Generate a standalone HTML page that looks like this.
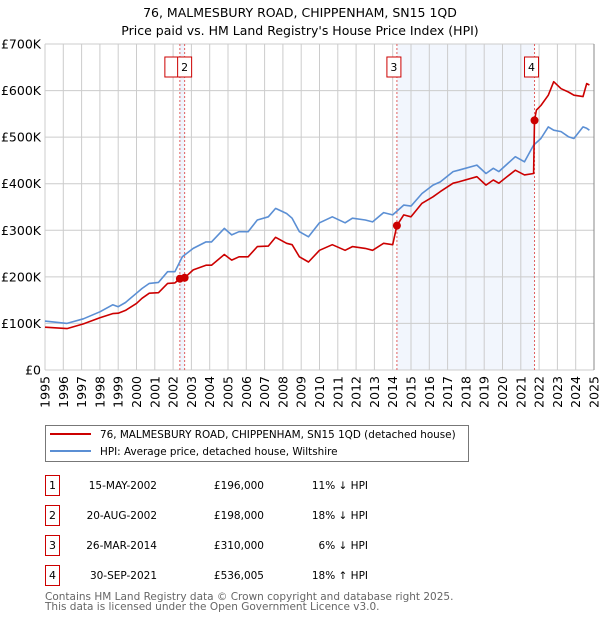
<!DOCTYPE html>
<html><head><meta charset="utf-8">
<style>
body{margin:0;background:#fff;font-family:"Liberation Sans","DejaVu Sans",sans-serif;}
svg text{font-family:"DejaVu Sans","Liberation Sans",sans-serif;}
</style></head>
<body>
<svg id="chart" width="600" height="620" viewBox="0 0 600 620" xmlns="http://www.w3.org/2000/svg">
<text x="300" y="17" text-anchor="middle" font-size="12.5">76, MALMESBURY ROAD, CHIPPENHAM, SN15 1QD</text>
<text x="300" y="35" text-anchor="middle" font-size="12.5">Price paid vs. HM Land Registry's House Price Index (HPI)</text>
<g id="plot"></g>
<g>
<rect x="45.5" y="425.5" width="423" height="36" fill="#fff" stroke="#777"/>
<line x1="50" y1="434" x2="91" y2="434" stroke="#cc0000" stroke-width="2"/>
<text x="100" y="438" font-size="10.4">76, MALMESBURY ROAD, CHIPPENHAM, SN15 1QD (detached house)</text>
<line x1="50" y1="451" x2="91" y2="451" stroke="#5b8fd4" stroke-width="2"/>
<text x="100" y="455" font-size="10.4">HPI: Average price, detached house, Wiltshire</text>
</g>
<g id="table"></g>
<text x="45" y="600" font-size="10.5" fill="#666">Contains HM Land Registry data © Crown copyright and database right 2025.</text>
<text x="45" y="610" font-size="10.5" fill="#666">This data is licensed under the Open Government Licence v3.0.</text>
</svg>
<script>
const hpiYears=[1995.0,1996.2,1997.1,1998.0,1998.7,1999.0,1999.4,2000.0,2000.3,2000.7,2001.2,2001.7,2002.1,2002.5,2003.1,2003.8,2004.1,2004.8,2005.2,2005.6,2006.1,2006.6,2007.2,2007.6,2008.2,2008.5,2008.9,2009.4,2010.0,2010.7,2011.4,2011.8,2012.5,2012.9,2013.5,2014.0,2014.6,2015.0,2015.6,2016.2,2016.6,2017.3,2017.6,2018.6,2019.1,2019.5,2019.8,2020.7,2021.2,2021.7,2022.1,2022.5,2022.8,2023.2,2023.6,2023.9,2024.4,2024.6,2024.75];
const hpiValues=[105,100,110,125,140,136,145,165,175,186,188,211,211,243,261,275,275,304,290,297,297,322,329,347,336,326,297,286,316,329,316,326,322,318,338,333,354,352,379,397,404,426,429,440,422,433,426,458,447,483,497,522,515,512,501,497,522,519,515];
const priceYears=[1995.0,1996.2,1997.1,1998.0,1998.7,1999.0,1999.4,2000.0,2000.3,2000.7,2001.2,2001.7,2002.1,2002.37,2002.63,2003.1,2003.8,2004.1,2004.8,2005.2,2005.6,2006.1,2006.6,2007.2,2007.6,2008.2,2008.5,2008.9,2009.4,2010.0,2010.7,2011.4,2011.8,2012.5,2012.9,2013.5,2014.0,2014.23,2014.6,2015.0,2015.6,2016.2,2016.6,2017.3,2017.6,2018.6,2019.1,2019.5,2019.8,2020.7,2021.2,2021.7,2021.75,2021.85,2022.1,2022.5,2022.8,2023.2,2023.6,2023.9,2024.4,2024.6,2024.75];
const priceValues=[92,89,99,112,121,122,128,143,154,165,166,186,187,196,198,215,225,225,248,236,243,243,265,266,285,272,269,243,232,257,269,257,265,261,257,272,269,310,333,329,358,372,383,401,404,415,397,408,401,429,419,422,536,558,568,590,619,604,597,590,587,615,612];
const saleYears=[2002.37,2002.63,2014.23,2021.75];
const saleValues=[196,198,310,536];
const saleLabels=["1","2","3","4"];
const saleDates=["15-MAY-2002","20-AUG-2002","26-MAR-2014","30-SEP-2021"];
const salePrices=["£196,000","£198,000","£310,000","£536,005"];
const saleHpi=["11% ↓ HPI","18% ↓ HPI","6% ↓ HPI","18% ↑ HPI"];
const yTicks=[0,100,200,300,400,500,600,700];
const yTickLabels=["£0","£100K","£200K","£300K","£400K","£500K","£600K","£700K"];
const xTicks=[1995,1996,1997,1998,1999,2000,2001,2002,2003,2004,2005,2006,2007,2008,2009,2010,2011,2012,2013,2014,2015,2016,2017,2018,2019,2020,2021,2022,2023,2024,2025];

const NS="http://www.w3.org/2000/svg";
const L=45,R=594,T=44,B=370;
const xs=y=>L+(y-1995)/30*(R-L);
const ys=v=>B-v/700*(B-T);
const plot=document.getElementById('plot');
function mk(tag,at,parent){const e=document.createElementNS(NS,tag);for(const k in at)e.setAttribute(k,at[k]);(parent||plot).appendChild(e);return e;}

let s1=mk('rect',{x:xs(saleYears[0]),y:T,width:xs(saleYears[1])-xs(saleYears[0]),height:B-T,fill:'#eef3fc'});


let s2=mk('rect',{x:xs(saleYears[2]),y:T,width:xs(saleYears[3])-xs(saleYears[2]),height:B-T,fill:'#f2f6fd'});



yTicks.forEach((v,i)=>{
  let g=mk('line',{x1:L,x2:R,y1:ys(v),y2:ys(v),stroke:'#cccccc','stroke-width':1});
  
  
  let t=mk('text',{x:L-4,y:ys(v)+4.5,'text-anchor':'end','font-size':'12.5'});
  t.textContent=yTickLabels[i];
  
  
});
xTicks.forEach(y=>{
  let g=mk('line',{x1:xs(y),x2:xs(y),y1:T,y2:B,stroke:'#cccccc','stroke-width':1});
  
  
  let t=mk('text',{x:0,y:0,'text-anchor':'end','font-size':'12.5',transform:`translate(${xs(y)+4.5},${B+6}) rotate(-90)`});
  t.textContent=y;
  
  
});
let rb=mk('line',{x1:R,x2:R,y1:T,y2:B,stroke:'#888','stroke-width':1});



saleYears.forEach(y=>{
  let l=mk('line',{x1:xs(y),x2:xs(y),y1:T,y2:B,stroke:'#e06060','stroke-width':1,'stroke-dasharray':'2,2'});
  
  
});

function path(xa,va,col,name){
  let d=xa.map((y,i)=>(i?'L':'M')+xs(y).toFixed(1)+','+ys(va[i]).toFixed(1)).join('');
  let p=mk('path',{d:d,fill:'none',stroke:col,'stroke-width':1.6,'stroke-linejoin':'round'});
  
  
}
path(hpiYears,hpiValues,'#5b8fd4','hpi-line');
path(priceYears,priceValues,'#cc0000','price-paid-line');

saleYears.forEach((y,i)=>{
  let c=mk('circle',{cx:xs(y),cy:ys(saleValues[i]),r:4,fill:'#cc0000'});
  
  
});
saleYears.forEach((y,i)=>{
  const bx=i===0?xs(y)-15:(i===1?xs(y)-7:xs(y)-10);
  let r=mk('rect',{x:bx,y:57,width:i===0?15:14,height:20,fill:'#fff',stroke:'#cc0000','stroke-width':1});
  
  
  if(i!==0){
    let t=mk('text',{x:bx+7,y:71,'text-anchor':'middle','font-size':'11'});
    t.textContent=saleLabels[i];
    
    
  }
});

const tb=document.getElementById('table');
saleLabels.forEach((lab,i)=>{
  const yc=483+i*30;
  let r=mk('rect',{x:45.5,y:yc-7.5,width:14,height:20,fill:'#fff',stroke:'#cc0000'},tb);
  
  
  let t=mk('text',{x:52.5,y:yc+6,'text-anchor':'middle','font-size':'11'},tb);
  t.textContent=lab;
  
  
  let d=mk('text',{x:157,y:yc+6,'text-anchor':'end','font-size':'10.5'},tb);
  d.textContent=saleDates[i];
  
  
  let p=mk('text',{x:264,y:yc+6,'text-anchor':'end','font-size':'10.5'},tb);
  p.textContent=salePrices[i];
  
  
  let h=mk('text',{x:368,y:yc+6,'text-anchor':'end','font-size':'10.5'},tb);
  h.textContent=saleHpi[i];
  
  
});
</script>
</body></html>
